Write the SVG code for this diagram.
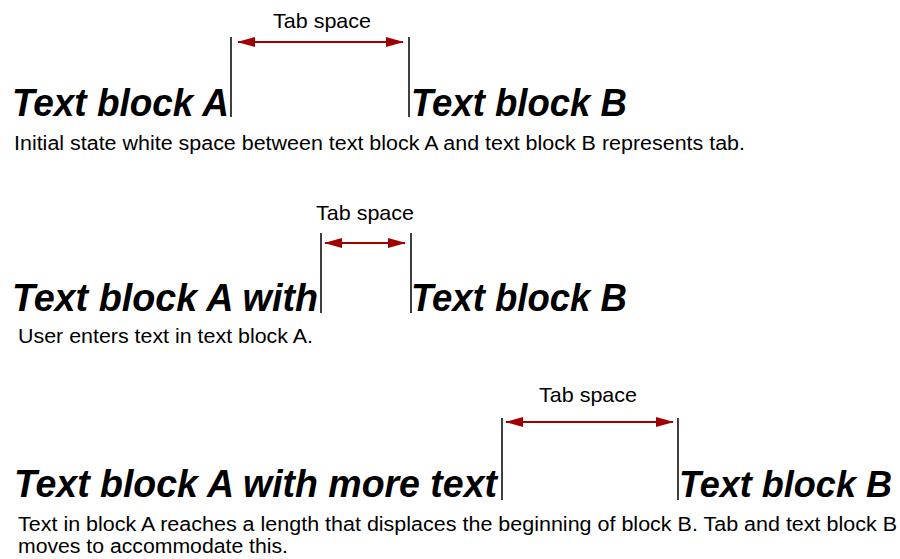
<svg xmlns="http://www.w3.org/2000/svg" width="900" height="559" viewBox="0 0 900 559">
<style>
.big{font-family:"Liberation Sans",Arial,sans-serif;font-size:38px;font-weight:bold;font-style:italic;fill:#000}
.lbl{font-family:"Liberation Sans",Arial,sans-serif;font-size:21px;fill:#000}
.cap{font-family:"Liberation Sans",Arial,sans-serif;font-size:20px;fill:#000}
.bar{stroke:#000;stroke-width:1.5;fill:none}
.arr{stroke:#a00000;stroke-width:2;fill:none;marker-start:url(#ah);marker-end:url(#ah)}
</style>
<defs>
<marker id="ah" viewBox="0 0 18 10" refX="17" refY="5" markerWidth="18" markerHeight="10" markerUnits="userSpaceOnUse" orient="auto-start-reverse">
<path d="M0,0 L18,5 L0,10 Z" fill="#a00000"/>
</marker>
</defs>
<rect width="900" height="559" fill="#fff"/>
<g id="row1">
<text class="big" x="12" y="116" textLength="217" lengthAdjust="spacingAndGlyphs">Text block A</text>
<text class="big" x="411" y="116" textLength="216" lengthAdjust="spacingAndGlyphs">Text block B</text>
<text class="lbl" x="273" y="28" textLength="98" lengthAdjust="spacingAndGlyphs">Tab space</text>
<text class="cap" x="14" y="150" textLength="731" lengthAdjust="spacingAndGlyphs">Initial state white space between text block A and text block B represents tab.</text>
</g>
<g id="row2">
<text class="big" x="12" y="311" textLength="306" lengthAdjust="spacingAndGlyphs">Text block A with</text>
<text class="big" x="411" y="311" textLength="216" lengthAdjust="spacingAndGlyphs">Text block B</text>
<text class="lbl" x="316" y="220" textLength="98" lengthAdjust="spacingAndGlyphs">Tab space</text>
<text class="cap" x="18" y="343" textLength="295" lengthAdjust="spacingAndGlyphs">User enters text in text block A.</text>
</g>
<g id="row3">
<text class="big" x="14" y="497" textLength="483" lengthAdjust="spacingAndGlyphs">Text block A with more text</text>
<text class="big" x="679" y="497" style="font-size:36.5px" textLength="213" lengthAdjust="spacingAndGlyphs">Text block B</text>
<text class="lbl" x="539" y="402" textLength="98" lengthAdjust="spacingAndGlyphs">Tab space</text>
<text class="cap" x="18" y="531" textLength="879" lengthAdjust="spacingAndGlyphs">Text in block A reaches a length that displaces the beginning of block B. Tab and text block B</text>
<text class="cap" x="18" y="553" textLength="270" lengthAdjust="spacingAndGlyphs">moves to accommodate this.</text>
</g>
<g id="connectors">
<line class="bar" x1="231" y1="37" x2="231" y2="117"/>
<line class="bar" x1="409" y1="37" x2="409" y2="117"/>
<line class="arr" x1="238" y1="42" x2="403" y2="42"/>
<line class="bar" x1="321" y1="233" x2="321" y2="313"/>
<line class="bar" x1="411" y1="233" x2="411" y2="313"/>
<line class="arr" x1="325" y1="243" x2="405" y2="243"/>
<line class="bar" x1="502" y1="418" x2="502" y2="500"/>
<line class="bar" x1="678" y1="418" x2="678" y2="500"/>
<line class="arr" x1="506" y1="422" x2="673" y2="422"/>
</g>
</svg>
